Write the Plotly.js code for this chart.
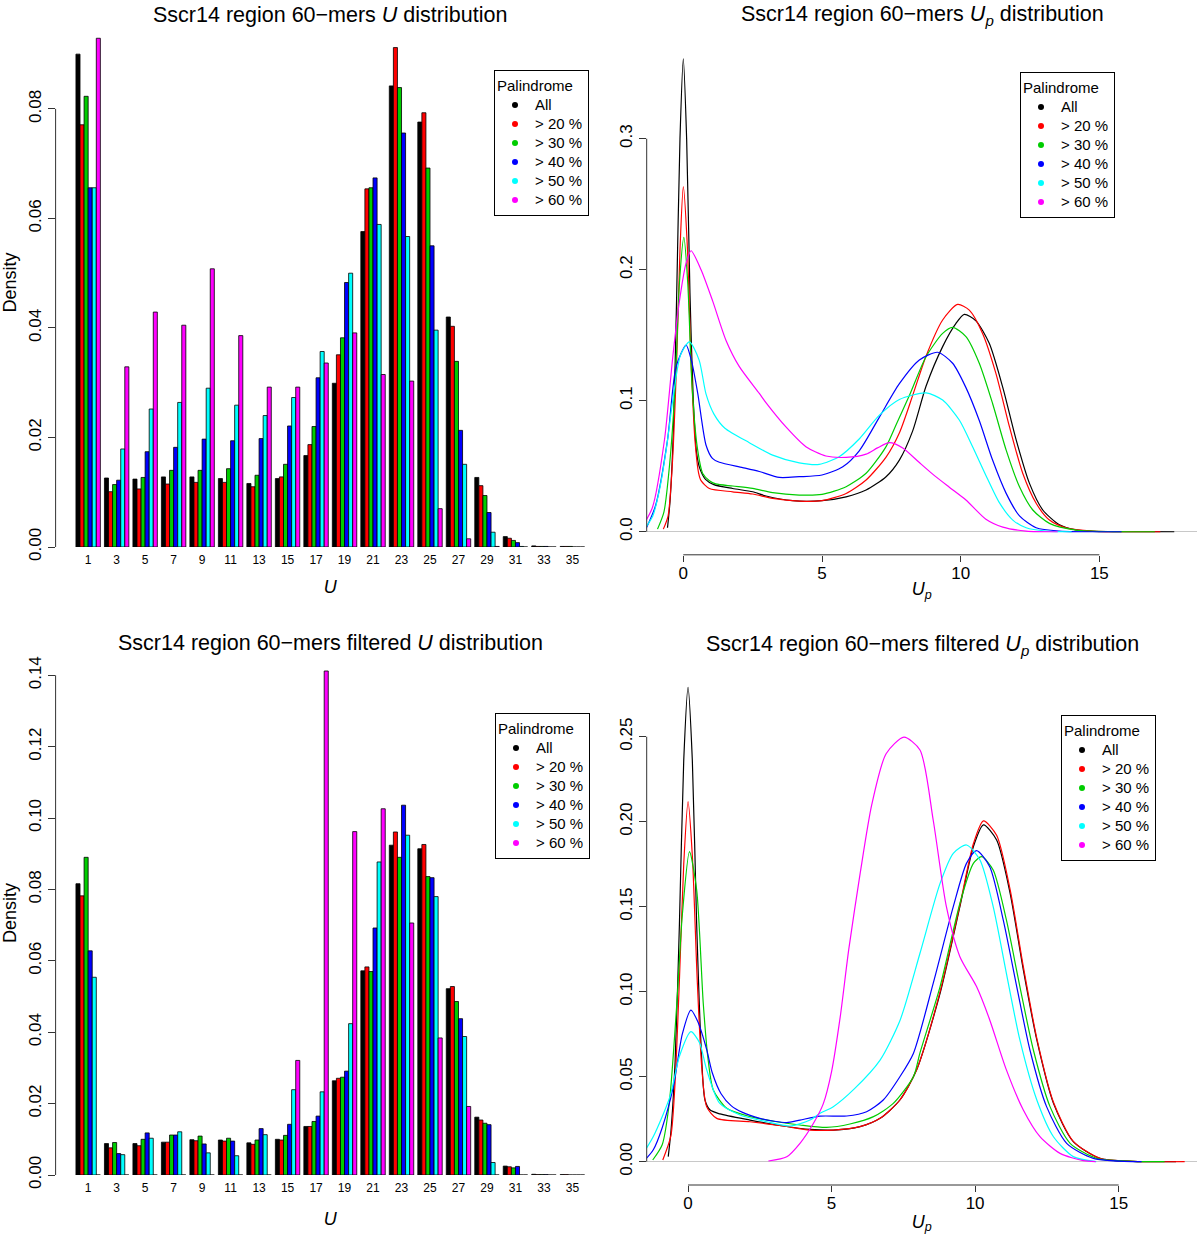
<!DOCTYPE html>
<html>
<head>
<meta charset="utf-8">
<script src="https://cdn.plot.ly/plotly-3.0.1.min.js"></script>
<style>
body{margin:0;background:#fff}
#chart{width:1200px;height:1236px}
</style>
</head>
<body>
<div id="chart"></div>
<script>
// U categories (odd values) and tick labels
var U = [1,3,5,7,9,11,13,15,17,19,21,23,25,27,29,31,33,35];
var groups = ['All','> 20 %','> 30 %','> 40 %','> 50 %','> 60 %'];
var colors = ['#000000','#FF0000','#00CD00','#0000FF','#00FFFF','#FF00FF'];

// top-left: U distribution (density per U)
var uAll = [0.0900,0.0126,0.0124,0.0128,0.0128,0.0125,0.0116,0.0125,0.0167,0.0299,0.0576,0.0842,0.0776,0.0420,0.0127,0.0019,0.0002,0.0001];
var u20  = [0.0771,0.0101,0.0106,0.0115,0.0118,0.0118,0.0110,0.0128,0.0187,0.0351,0.0654,0.0912,0.0793,0.0403,0.0112,0.0016,0.0001,0.0001];
var u30  = [0.0823,0.0114,0.0127,0.0140,0.0140,0.0143,0.0131,0.0151,0.0220,0.0382,0.0656,0.0839,0.0692,0.0339,0.0094,0.0012,0.0001,0.0001];
var u40  = [0.0656,0.0122,0.0174,0.0182,0.0197,0.0194,0.0198,0.0221,0.0309,0.0483,0.0674,0.0756,0.0550,0.0213,0.0063,0.0008,0.0001,0];
var u50  = [0.0656,0.0179,0.0252,0.0264,0.0290,0.0259,0.0240,0.0273,0.0357,0.0500,0.0589,0.0567,0.0396,0.0151,0.0027,0.0001,0,0];
var u60  = [0.0929,0.0329,0.0429,0.0405,0.0508,0.0386,0.0292,0.0292,0.0336,0.0391,0.0315,0.0303,0.0070,0.0015,0.0001,0,0,0];

// bottom-left: filtered U distribution
var fuAll = [0.0816,0.0088,0.0088,0.0092,0.0099,0.0098,0.0090,0.0100,0.0136,0.0264,0.0572,0.0924,0.0914,0.0522,0.0162,0.0025,0.0002,0.0001];
var fu20  = [0.0782,0.0076,0.0082,0.0092,0.0096,0.0095,0.0086,0.0098,0.0136,0.0271,0.0583,0.0961,0.0926,0.0528,0.0154,0.0023,0.0001,0.0001];
var fu30  = [0.0890,0.0091,0.0100,0.0112,0.0109,0.0103,0.0098,0.0111,0.0150,0.0274,0.0570,0.0890,0.0836,0.0486,0.0145,0.0020,0.0001,0];
var fu40  = [0.0628,0.0060,0.0118,0.0112,0.0087,0.0095,0.0130,0.0142,0.0165,0.0291,0.0692,0.1036,0.0833,0.0438,0.0141,0.0024,0.0001,0];
var fu50  = [0.0554,0.0057,0.0103,0.0121,0.0062,0.0054,0.0113,0.0239,0.0233,0.0424,0.0877,0.0952,0.0780,0.0388,0.0035,0,0,0];
var fu60  = [0,0,0,0,0,0,0,0.0321,0.1412,0.0962,0.1026,0.0706,0.0384,0.0192,0,0,0,0];

// top-right: Up density curves, [Up, density]
var upAll = [[-0.57,0.003],[-0.48,0.023],[-0.36,0.076],[-0.24,0.18],[-0.12,0.3],[0,0.361],[0.12,0.3],[0.24,0.182],[0.36,0.1],[0.48,0.06],[0.6,0.048],[0.8,0.04],[1.1,0.036],[1.78,0.033],[2.5,0.0305],[2.98,0.0273],[3.94,0.0237],[5.0,0.0237],[5.87,0.0266],[6.59,0.0318],[7.31,0.042],[7.79,0.0547],[8.27,0.077],[8.75,0.111],[9.35,0.1413],[9.83,0.159],[10.13,0.1659],[10.55,0.161],[11.03,0.1438],[11.52,0.110],[12.0,0.0701],[12.48,0.0369],[12.96,0.0166],[13.56,0.0053],[14.16,0.0014],[14.76,0.0003],[16,0.00005],[17.7,0]];
var up20 = [[-0.72,0.002],[-0.55,0.012],[-0.4,0.05],[-0.24,0.13],[-0.12,0.215],[0,0.2634],[0.14,0.22],[0.28,0.13],[0.42,0.07],[0.55,0.045],[0.64,0.039],[0.94,0.033],[1.78,0.0305],[2.5,0.0288],[3.22,0.0255],[4.18,0.0234],[5.0,0.0237],[5.87,0.0292],[6.59,0.0395],[7.31,0.057],[7.8,0.076],[8.3,0.106],[8.75,0.134],[9.35,0.1616],[9.89,0.1735],[10.31,0.1692],[10.79,0.1514],[11.27,0.1209],[11.76,0.080],[12.24,0.0444],[12.72,0.0217],[13.2,0.0089],[13.8,0.003],[14.76,0.0005],[16,0.00005],[17.2,0]];
var up30 = [[-0.93,0.002],[-0.7,0.015],[-0.5,0.05],[-0.29,0.113],[-0.14,0.19],[0.02,0.2247],[0.16,0.19],[0.31,0.113],[0.5,0.065],[0.7,0.0445],[0.94,0.039],[1.17,0.0365],[1.78,0.0349],[2.5,0.0331],[3.22,0.0298],[4.18,0.028],[5.0,0.0285],[5.87,0.0344],[6.59,0.0446],[7.31,0.065],[7.7,0.083],[8.15,0.104],[8.75,0.1336],[9.35,0.1514],[9.71,0.156],[10.19,0.1489],[10.67,0.1286],[11.15,0.0979],[11.64,0.0623],[12.12,0.0343],[12.6,0.0166],[13.2,0.0064],[14.16,0.0013],[15.5,0.0001],[17,0]];
var up40 = [[-1.35,0.002],[-1.0,0.02],[-0.57,0.07],[-0.26,0.126],[0.1,0.1425],[0.3,0.13],[0.52,0.1056],[0.82,0.066],[1.05,0.056],[1.3,0.053],[2.14,0.049],[2.74,0.046],[3.46,0.0415],[4.18,0.042],[5.0,0.0433],[5.75,0.0496],[6.35,0.062],[7.07,0.0875],[7.79,0.113],[8.51,0.1311],[9.17,0.137],[9.71,0.1286],[10.19,0.110],[10.67,0.0849],[11.15,0.0547],[11.64,0.0293],[12.12,0.0121],[12.72,0.003],[13.56,0.0005],[15.8,0]];
var up50 = [[-1.4,0.002],[-1.1,0.012],[-0.86,0.032],[-0.6,0.065],[-0.38,0.1005],[-0.1,0.135],[0.22,0.145],[0.57,0.131],[0.82,0.105],[1.1,0.09],[1.5,0.079],[2.38,0.068],[3.22,0.0585],[4.18,0.0526],[4.9,0.0514],[5.62,0.0573],[6.35,0.071],[7.07,0.089],[7.79,0.101],[8.75,0.106],[9.35,0.1005],[9.95,0.0853],[10.43,0.0649],[10.91,0.043],[11.4,0.022],[11.88,0.0089],[12.36,0.003],[13.08,0.0005],[14,0]];
var up60 = [[-1.53,0.002],[-1.11,0.0187],[-0.68,0.07],[-0.38,0.1334],[-0.14,0.176],[0.1,0.205],[0.28,0.2145],[0.64,0.200],[1.06,0.176],[1.54,0.146],[2.02,0.126],[2.74,0.1056],[3.0,0.098],[3.7,0.080],[4.42,0.0649],[5.14,0.0578],[5.87,0.0568],[6.59,0.0593],[7.0,0.064],[7.43,0.068],[7.91,0.064],[8.5,0.053],[8.99,0.044],[9.59,0.034],[10.19,0.0242],[10.91,0.0095],[11.52,0.0035],[12.36,0.0005],[13.5,0]];

// bottom-right: filtered Up density curves
var fAll = [[-0.69,0.003],[-0.6,0.017],[-0.45,0.059],[-0.3,0.14],[-0.15,0.236],[0,0.279],[0.15,0.236],[0.3,0.14],[0.45,0.07],[0.59,0.0363],[0.77,0.0304],[1.11,0.0281],[2.16,0.0245],[3.32,0.021],[4.25,0.019],[5.06,0.0186],[5.99,0.0206],[6.69,0.0255],[7.38,0.0363],[7.96,0.0539],[8.78,0.099],[9.47,0.150],[9.94,0.1853],[10.29,0.1981],[10.75,0.1892],[11.22,0.1579],[11.68,0.1128],[12.15,0.0716],[12.73,0.0343],[13.42,0.0118],[14.35,0.002],[15.5,0.0002],[17,0]];
var f20 = [[-0.88,0.001],[-0.6,0.015],[-0.45,0.047],[-0.3,0.107],[-0.15,0.175],[0,0.2118],[0.15,0.18],[0.32,0.107],[0.48,0.055],[0.65,0.0323],[1.0,0.0255],[2.16,0.0235],[3.32,0.021],[4.25,0.0186],[5.06,0.0186],[5.99,0.0206],[6.69,0.0255],[7.38,0.0363],[7.96,0.054],[8.78,0.1],[9.47,0.151],[9.94,0.187],[10.29,0.2005],[10.75,0.192],[11.22,0.160],[11.68,0.1147],[12.15,0.0726],[12.73,0.035],[13.42,0.012],[14.35,0.002],[15.5,0.0002],[17.3,0]];
var f30 = [[-1.23,0.001],[-0.9,0.01],[-0.65,0.035],[-0.39,0.0932],[-0.2,0.145],[0.05,0.1824],[0.3,0.16],[0.53,0.0932],[0.7,0.06],[0.88,0.0422],[1.35,0.0314],[2.16,0.0265],[3.09,0.0235],[3.9,0.0216],[4.83,0.0202],[5.64,0.0222],[6.46,0.0265],[7.15,0.0343],[7.85,0.05],[8.08,0.064],[8.78,0.103],[9.47,0.152],[9.94,0.1755],[10.23,0.1794],[10.63,0.1716],[11.09,0.1422],[11.56,0.103],[12.03,0.0657],[12.61,0.0324],[13.31,0.0108],[14.24,0.002],[15.5,0.0002],[16.6,0]];
var f40 = [[-1.5,0.001],[-1.21,0.007],[-0.9,0.02],[-0.51,0.0443],[-0.2,0.075],[0.1,0.0892],[0.35,0.082],[0.65,0.0659],[0.85,0.052],[1.15,0.04],[1.5,0.033],[1.9,0.029],[2.5,0.0255],[3.0,0.0238],[3.44,0.023],[3.9,0.0245],[4.6,0.0268],[5.53,0.0269],[6.22,0.0294],[6.8,0.0363],[7.38,0.05],[7.85,0.0637],[8.54,0.1049],[9.24,0.150],[9.7,0.1755],[10.05,0.183],[10.51,0.1735],[10.98,0.1422],[11.45,0.103],[11.91,0.0657],[12.49,0.0324],[13.19,0.0108],[14.12,0.002],[15.8,0]];
var f50 = [[-1.67,0.002],[-1.21,0.0148],[-0.63,0.0383],[-0.3,0.062],[0.1,0.0765],[0.4,0.07],[0.65,0.054],[1.1,0.0344],[1.81,0.0275],[2.74,0.0235],[3.55,0.021],[4.25,0.0245],[4.6,0.0285],[5.06,0.0324],[5.8,0.043],[6.69,0.0598],[7.39,0.0834],[8.08,0.1226],[8.78,0.1637],[9.24,0.1814],[9.7,0.1863],[10.17,0.1775],[10.63,0.150],[11.09,0.1108],[11.56,0.0716],[12.15,0.0363],[12.73,0.0147],[13.42,0.003],[14.22,0]];
var f60 = [[2.8,0.0004],[3.44,0.0029],[3.9,0.0108],[4.37,0.0226],[4.71,0.034],[5.0,0.053],[5.3,0.085],[5.6,0.125],[6.0,0.17],[6.4,0.21],[6.9,0.24],[7.52,0.2497],[8.08,0.2422],[8.54,0.201],[9.0,0.15],[9.47,0.1206],[10.05,0.103],[10.51,0.0834],[11.09,0.054],[11.68,0.0304],[12.26,0.0147],[12.96,0.0049],[13.77,0.0006],[14.2,0]];

var FONT = 'Liberation Sans, Arial, Helvetica, sans-serif';
var W = 1200, H = 1236;

function px(x){ return x / W; }
function py(y){ return 1 - y / H; }

function makeBar(y, i, xa, ya){
	return {
		x: U, y: y, type: 'bar', name: groups[i],
		xaxis: xa, yaxis: ya, showlegend: false,
		marker: {color: colors[i], line: {color: '#000', width: 0.8}},
		hoverinfo: 'skip'
	};
}

function makeCurve(pts, i, xa, ya){
	return {
		x: pts.map(function(p){ return p[0]; }),
		y: pts.map(function(p){ return p[1]; }),
		type: 'scatter', mode: 'lines', name: groups[i],
		xaxis: xa, yaxis: ya, showlegend: false,
		line: {color: colors[i], width: 1.2, shape: 'spline', smoothing: 0.7},
		hoverinfo: 'skip'
	};
}

// legend-only dot entries (R legend uses pch dots)
function makeKey(i, xa, ya, lg){
	return {
		x: [null], y: [null], type: 'scatter', mode: 'markers',
		name: '<span style="font-size:15px">' + groups[i] + '</span>',
		xaxis: xa, yaxis: ya, legend: lg, showlegend: true,
		marker: {color: colors[i], size: 6}
	};
}

var data = [];
[uAll,u20,u30,u40,u50,u60].forEach(function(s, i){ data.push(makeBar(s, i, 'x', 'y')); });
[fuAll,fu20,fu30,fu40,fu50,fu60].forEach(function(s, i){ data.push(makeBar(s, i, 'x3', 'y3')); });
[upAll,up20,up30,up40,up50,up60].forEach(function(s, i){ data.push(makeCurve(s, i, 'x2', 'y2')); });
[fAll,f20,f30,f40,f50,f60].forEach(function(s, i){ data.push(makeCurve(s, i, 'x4', 'y4')); });
groups.forEach(function(g, i){
	data.push(makeKey(i, 'x', 'y', 'legend'));
	data.push(makeKey(i, 'x2', 'y2', 'legend2'));
	data.push(makeKey(i, 'x3', 'y3', 'legend3'));
	data.push(makeKey(i, 'x4', 'y4', 'legend4'));
});

function barX(standoff){
	return {
		domain: [px(55.6), px(605)], range: [-1.286, 37.286],
		tickvals: U, ticktext: U.map(String), ticks: '',
		ticklabelstandoff: 4,
		showline: false, showgrid: false, zeroline: false,
		tickfont: {size: 12, color: '#000'},
		title: {text: '<i>U</i>', font: {size: 18}, standoff: standoff}
	};
}
function barY(top, bottom, max){
	return {
		domain: [py(bottom), py(top)], range: [0, max],
		dtick: 0.02, tick0: 0, tickformat: '.2f', tickangle: -90,
		ticks: 'outside', ticklen: 7, tickcolor: '#333',
		showline: false, showgrid: false, zeroline: false,
		tickfont: {size: 17, color: '#000'},
		title: {text: 'Density', font: {size: 18}, standoff: 4}
	};
}
function curveX(range, standoff){
	return {
		domain: [px(646.7), px(1197)], range: range,
		tickvals: [0,5,10,15], ticks: 'outside', ticklen: 6, tickcolor: '#333',
		ticklabelstandoff: -3,
		showline: false, showgrid: false, zeroline: false,
		tickfont: {size: 17, color: '#000'},
		title: {text: '<i>U<sub>p</sub></i>', font: {size: 18}, standoff: standoff}
	};
}
function curveY(top, bottom, range, dtick, fmt){
	return {
		domain: [py(bottom), py(top)], range: range,
		dtick: dtick, tick0: 0, tickformat: fmt, tickangle: -90,
		ticks: 'outside', ticklen: 7, tickcolor: '#333',
		showline: false, showgrid: false,
		zeroline: true, zerolinecolor: '#C8C8C8', zerolinewidth: 1.2,
		tickfont: {size: 17, color: '#000'}
	};
}

function legendAt(x, y){
	return {
		x: px(x), y: py(y), xanchor: 'left', yanchor: 'top',
		bgcolor: '#fff', bordercolor: '#000', borderwidth: 1,
		font: {family: FONT, size: 12, color: '#000'},
		title: {text: 'Palindrome', font: {size: 15}},
		itemwidth: 30, tracegroupgap: 0
	};
}

function axisLine(xref, yref, x0, x1, y0, y1){
	return {type: 'line', xref: xref, yref: yref, x0: x0, x1: x1, y0: y0, y1: y1,
		line: {color: '#333', width: 1}};
}

function title(text, x, y){
	return {text: text, xref: 'paper', yref: 'paper', x: px(x), y: py(y),
		xanchor: 'center', yanchor: 'middle', showarrow: false,
		font: {size: 21.5, color: '#000'}};
}

var layout = {
	width: W, height: H,
	margin: {l: 0, r: 0, t: 0, b: 0},
	paper_bgcolor: '#fff', plot_bgcolor: '#fff',
	font: {family: FONT, color: '#000'},
	barmode: 'group', bargap: 1/7, bargroupgap: 0,
	xaxis: barX(14),
	yaxis: barY(18, 547, 0.0966),
	xaxis3: Object.assign(barX(18), {anchor: 'y3'}),
	yaxis3: Object.assign(barY(651, 1175, 0.1468), {anchor: 'x3'}),
	xaxis2: Object.assign(curveX([-1.32, 18.52], 0), {anchor: 'y2'}),
	yaxis2: Object.assign(curveY(38.5, 554.8, [-0.0176, 0.3765], 0.1, '.1f'), {anchor: 'x2'}),
	xaxis4: Object.assign(curveX([-1.44, 17.73], 2), {anchor: 'y4'}),
	yaxis4: Object.assign(curveY(667.5, 1185, [-0.0137, 0.2907], 0.05, '.2f'), {anchor: 'x4'}),
	legend: legendAt(494, 70),
	legend2: legendAt(1020, 72),
	legend3: legendAt(495, 713),
	legend4: legendAt(1061, 715),
	shapes: [
		axisLine('x domain', 'y', 0, 0, 0, 0.08),
		axisLine('x3 domain', 'y3', 0, 0, 0, 0.14),
		axisLine('x2 domain', 'y2', 0, 0, 0, 0.3),
		axisLine('x2', 'y2 domain', 0, 15, 0, 0),
		axisLine('x4 domain', 'y4', 0, 0, 0, 0.25),
		axisLine('x4', 'y4 domain', 0, 15, 0, 0)
	],
	annotations: [
		title('Sscr14 region 60\u2212mers <i>U</i> distribution', 330, 15),
		title('Sscr14 region 60\u2212mers <i>U<sub>p</sub></i> distribution', 922, 16),
		title('Sscr14 region 60\u2212mers filtered <i>U</i> distribution', 330, 643),
		title('Sscr14 region 60\u2212mers filtered <i>U<sub>p</sub></i> distribution', 922, 645)
	]
};

Plotly.newPlot('chart', data, layout, {displayModeBar: false, staticPlot: true});
</script>
</body>
</html>
